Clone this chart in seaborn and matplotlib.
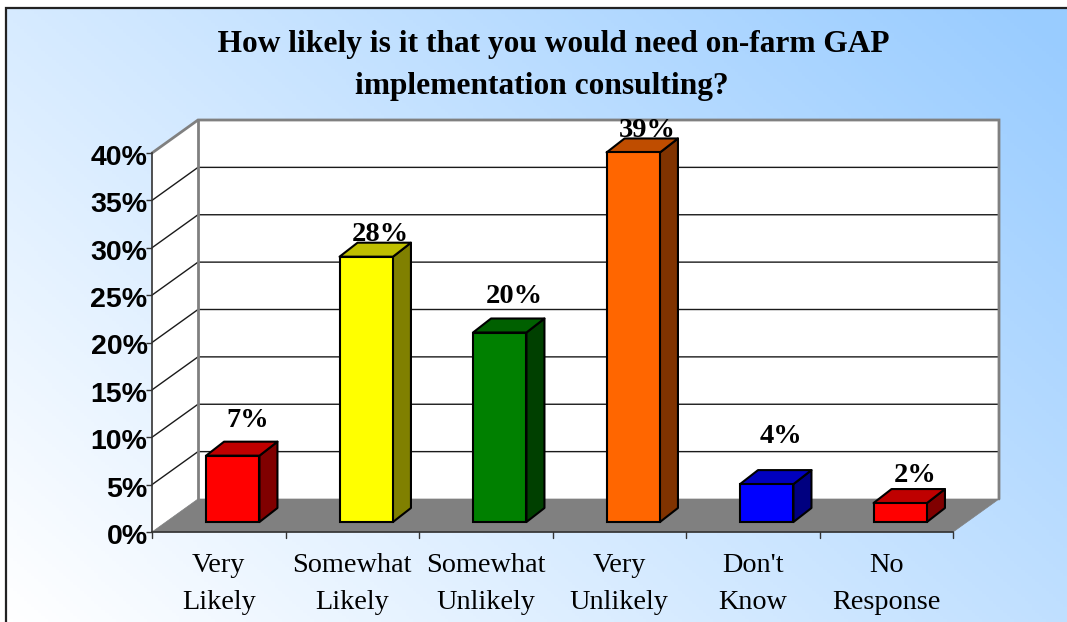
import numpy as np
import pandas as pd
import seaborn as sns
import matplotlib
matplotlib.use("Agg")
import matplotlib.pyplot as plt
from matplotlib.colors import LinearSegmentedColormap, to_rgb
from matplotlib.lines import Line2D
from matplotlib.patches import Polygon
from matplotlib.transforms import Affine2D, IdentityTransform

# ---- data ----
categories = ["Very\nLikely", "Somewhat\nLikely", "Somewhat\nUnlikely",
              "Very\nUnlikely", "Don't\nKnow", "No\nResponse"]
shares = [7, 28, 20, 39, 4, 2]
bar_colors = ["#ff0000", "#ffff00", "#008000", "#ff6600", "#0000ff", "#ff0000"]
y_ticks = [0, 5, 10, 15, 20, 25, 30, 35, 40]
title_text = "   How likely is it that you would need on-farm GAP\nimplementation consulting?"

# ---- layout (pixels) ----
W, H = 1067, 622
AX_L, AX_R, AX_BOT, AX_TOP = 152, 953, 532, 153
WALL_DX, WALL_DY = 46, 33       # depth of the 3-D box
BAR_DX, BAR_DY = 14, 10         # bar front plane inside the box
BAR_DEPTH_X, BAR_DEPTH_Y = 18, 14
label_lift = [35, 22, 36, 22, 48, 28]   # label centre above the bar's front top edge
label_shift_x = 14.5

sns.set_theme(style="white")
plt.rcParams["font.family"] = ["Liberation Serif", "DejaVu Serif"]

fig = plt.figure(figsize=(W / 100, H / 100), dpi=100, facecolor="white")

# gradient panel with border
bg = fig.add_axes([0, 0, 1, 1], zorder=0)
bg.axis("off")
gx, gy = np.meshgrid(np.linspace(0, 1, 300), np.linspace(0, 1, 200))
grad = np.clip(0.62 * gx + 0.40 * (1 - gy), 0, 1)
cmap = LinearSegmentedColormap.from_list("panel", ["#ffffff", "#99ccff"])
bg.imshow(grad, extent=(6, W, H, 8), cmap=cmap, vmin=0, vmax=1, aspect="auto")
bg.set_xlim(0, W)
bg.set_ylim(H, 0)
bg.plot([6, 6, W], [H, 8, 8], color="#222222", lw=1.6, solid_joinstyle="miter")

# chart axes occupy the front plane of the box
ax = fig.add_axes([AX_L / W, 1 - AX_BOT / H, (AX_R - AX_L) / W, (AX_BOT - AX_TOP) / H], zorder=1)
ax.patch.set_alpha(0)

df = pd.DataFrame({"category": categories, "share": shares})
sns.barplot(data=df, x="category", y="share", hue="category", palette=bar_colors,
            legend=False, width=0.4, saturation=1, edgecolor="black", linewidth=1.5, ax=ax)
ax.set_xlim(-0.5, len(categories) - 0.5)
ax.set_ylim(0, 40)
ax.set_xlabel("")
ax.set_ylabel("")

to_px = ax.transData.transform
px = IdentityTransform()

def poly(points, **kw):
    p = Polygon(points, closed=True, transform=px, clip_on=False, **kw)
    ax.add_patch(p)
    return p

def line(xs, ys, **kw):
    ax.add_line(Line2D(xs, ys, transform=px, clip_on=False, **kw))

x0, y0 = to_px((-0.5, 0))
x1, y1 = to_px((len(categories) - 0.5, 40))

# walls and floor
poly([(x0, y0), (x0 + WALL_DX, y0 + WALL_DY), (x0 + WALL_DX, y1 + WALL_DY), (x0, y1)],
     facecolor="white", edgecolor="none", zorder=0.5)
poly([(x0 + WALL_DX, y0 + WALL_DY), (x1 + WALL_DX, y0 + WALL_DY),
      (x1 + WALL_DX, y1 + WALL_DY), (x0 + WALL_DX, y1 + WALL_DY)],
     facecolor="white", edgecolor="none", zorder=0.5)

# gridlines
for t in y_ticks[1:-1]:
    _, yy = to_px((0, t))
    line([x0, x0 + WALL_DX, x1 + WALL_DX], [yy, yy + WALL_DY, yy + WALL_DY],
         color="#1a1a1a", lw=1.0, zorder=0.6)

# box outline in grey
line([x0, x0 + WALL_DX, x1 + WALL_DX, x1 + WALL_DX], [y1, y1 + WALL_DY, y1 + WALL_DY, y0 + WALL_DY],
     color="#808080", lw=2.0, zorder=0.65, solid_joinstyle="miter")
line([x0 + WALL_DX, x0 + WALL_DX], [y0 + WALL_DY, y1 + WALL_DY], color="#808080", lw=2.0, zorder=0.65)
poly([(x0, y0), (x1, y0), (x1 + WALL_DX, y0 + WALL_DY), (x0 + WALL_DX, y0 + WALL_DY)],
     facecolor="#808080", edgecolor="#808080", lw=0.5, zorder=0.7)

# 3-D bars: seaborn's bars are moved into the box, sides derived from them
shift = Affine2D().translate(BAR_DX, BAR_DY)
for i, (bar, val, col) in enumerate(zip(ax.patches[:len(shares)], shares, bar_colors)):
    (bx0, by0), (bx1, by1) = to_px(bar.get_bbox().get_points())
    bx0 += BAR_DX; bx1 += BAR_DX; by0 += BAR_DY; by1 += BAR_DY
    bar.set_transform(ax.transData + shift)
    bar.set_clip_on(False)
    bar.set_zorder(3)
    rgb = np.array(to_rgb(col))
    poly([(bx1, by0), (bx1 + BAR_DEPTH_X, by0 + BAR_DEPTH_Y), (bx1 + BAR_DEPTH_X, by1 + BAR_DEPTH_Y), (bx1, by1)],
         facecolor=rgb * 0.5, edgecolor="black", lw=1.5, zorder=2.9, joinstyle="round")
    poly([(bx0, by1), (bx1, by1), (bx1 + BAR_DEPTH_X, by1 + BAR_DEPTH_Y), (bx0 + BAR_DEPTH_X, by1 + BAR_DEPTH_Y)],
         facecolor=rgb * 0.75, edgecolor="black", lw=1.5, zorder=2.9, joinstyle="round")
    ax.text((bx0 + bx1) / 2 + label_shift_x, by1 + label_lift[i], f"{val}%", transform=px,
            ha="center", va="center", fontsize=20.5, fontweight="bold", color="black",
            clip_on=False, zorder=5)

# axes
ax.set_yticks(y_ticks)
ax.set_yticklabels([f"{t}%" for t in y_ticks], fontsize=20.5, fontweight="bold",
                   fontfamily="Liberation Sans", color="black")
ax.set_xticks(np.arange(len(categories)))
ax.set_xticklabels(categories, fontsize=20.3, color="black", linespacing=1.62)
ax.tick_params(axis="y", length=4.5, width=1, color="#333333", pad=-1.3, left=True)
ax.tick_params(axis="x", length=0, pad=15)
for lbl in ax.get_yticklabels():
    lbl.set_transform(lbl.get_transform() + Affine2D().translate(0, -2))
for t in np.arange(len(categories) + 1) - 0.5:
    xx, _ = to_px((t, 0))
    line([xx, xx], [y0, y0 - 6], color="#333333", lw=1.0, zorder=2)
for s in ["top", "right"]:
    ax.spines[s].set_visible(False)
for s in ["left", "bottom"]:
    ax.spines[s].set_color("#333333")
    ax.spines[s].set_linewidth(1.2)

fig.text(542 / W, 1 - 65.5 / H, title_text, ha="center", va="center", fontsize=22.6,
         fontweight="bold", color="black", linespacing=1.55, zorder=3)

fig.savefig("out.png", dpi=100)
